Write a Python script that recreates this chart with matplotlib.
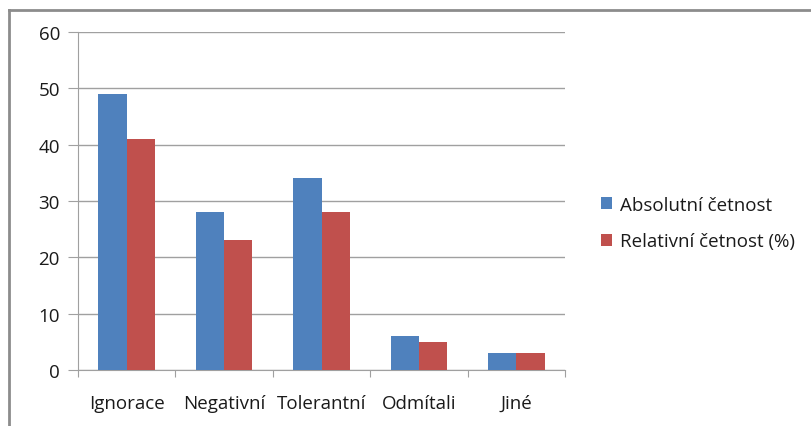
import numpy as np
import matplotlib
matplotlib.use('Agg')
import matplotlib.pyplot as plt
from matplotlib.lines import Line2D

categories = ['Ignorace', 'Negativní', 'Tolerantní', 'Odmítali', 'Jiné']
absolutni = [49, 28, 34, 6, 3]
relativni = [41, 23, 28, 5, 3]
series_names = ['Absolutní četnost', 'Relativní četnost (%)']

BLUE = '#4F81BD'
RED = '#C0504D'
GRID = '#A0A0A0'
TEXT = '#1A1A1A'

plt.rcParams['font.family'] = ['Open Sans', 'DejaVu Sans']

W, H = 811, 427
fig = plt.figure(figsize=(W / 100, H / 100), dpi=100)
ax = fig.add_axes([78 / W, 1 - 371 / H, (565 - 78) / W, (371 - 33) / H])

x = np.arange(len(categories))
bw = 0.29
ax.bar(x - bw / 2, absolutni, bw, color=BLUE, label=series_names[0], zorder=3)
ax.bar(x + bw / 2, relativni, bw, color=RED, label=series_names[1], zorder=3)

ax.set_xlim(-0.5, len(categories) - 0.5)
ax.set_ylim(0, 60)
ax.set_yticks(range(0, 61, 10))
ax.yaxis.grid(True, color=GRID, linewidth=1, zorder=0)

# category boundary ticks below the axis
ax.set_xticks(np.arange(-0.5, len(categories)), minor=False)
ax.set_xticklabels([])
ax.set_xticks(x, minor=True)
ax.set_xticklabels(categories, minor=True)
ax.tick_params(axis='x', which='major', length=5, color=GRID)
ax.tick_params(axis='x', which='minor', length=0, pad=17, labelsize=13.5, labelcolor=TEXT)
ax.tick_params(axis='y', length=7, color=GRID, pad=6, labelsize=13.5, labelcolor=TEXT)

for side in ['top', 'right']:
    ax.spines[side].set_visible(False)
ax.spines['left'].set_color(GRID)
ax.spines['bottom'].set_color(GRID)

ax.legend(loc='center left', bbox_to_anchor=(584 / W, 1 - 224 / H),
          bbox_transform=fig.transFigure, frameon=False, fontsize=13.5,
          handlelength=0.6, handleheight=0.6, handletextpad=0.4,
          labelspacing=1.0, labelcolor=TEXT)

# chart area border (top and left edges visible)
fig.add_artist(Line2D([8.5 / W, 1], [1 - 10.5 / H, 1 - 10.5 / H],
                      transform=fig.transFigure, color='#8C8C8C', linewidth=2))
fig.add_artist(Line2D([8.5 / W, 8.5 / W], [0, 1 - 10.5 / H],
                      transform=fig.transFigure, color='#8C8C8C', linewidth=2))

fig.savefig('out.png', dpi=100)
